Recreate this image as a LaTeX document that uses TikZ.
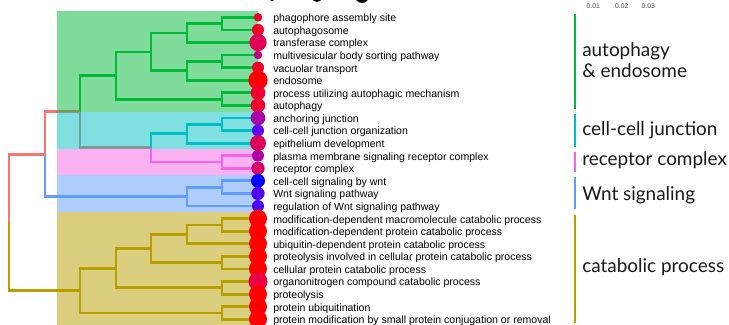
\documentclass[tikz,border=0pt]{standalone}
\usepackage{fontspec}
\setmainfont{Liberation Sans}
\newfontfamily\latofont{Lato}
\usepackage{tikz}
\usetikzlibrary{positioning}

\definecolor{salmonC}{RGB}{248,118,109}
\definecolor{oliveC}{RGB}{183,159,0}
\definecolor{greenC}{RGB}{0,186,56}
\definecolor{cyanC}{RGB}{0,191,196}
\definecolor{blueC}{RGB}{97,156,255}
\definecolor{pinkC}{RGB}{245,100,227}

\begin{document}
\begin{tikzpicture}[x=0.75pt,y=0.75pt,yscale=-1,xscale=1,
    branch/.style={line width=2.1pt},
    band/.style={fill opacity=0.5},
    hit/.style={circle,inner sep=0pt,minimum size=#1},
    term/.style={anchor=west,inner sep=0pt,font=\fontsize{7.9}{9}\selectfont,text height=1.5ex,text depth=0.25ex},
    groupbar/.style={line width=1.9pt},
    grouplab/.style={anchor=west,inner sep=0pt,align=left,text=black!90,font=\latofont\fontsize{14.2}{15.5}\selectfont},
    scalelab/.style={inner sep=0pt,text=black!75,font=\fontsize{5.1}{6}\selectfont}]
    \useasboundingbox (0,0) rectangle (729,325);
    \clip (0,0) rectangle (729,325);

    % leaves
    \coordinate (r0) at (258,17.3);   \coordinate (r1) at (258,29.9);   \coordinate (r2) at (258,42.5);
    \coordinate (r3) at (258,55.0);   \coordinate (r4) at (258,67.6);   \coordinate (r5) at (258,80.2);
    \coordinate (r6) at (258,92.8);   \coordinate (r7) at (258,105.4);  \coordinate (r8) at (258,117.9);
    \coordinate (r9) at (258,130.5);  \coordinate (r10) at (258,143.1); \coordinate (r11) at (258,155.7);
    \coordinate (r12) at (258,168.3); \coordinate (r13) at (258,180.8); \coordinate (r14) at (258,193.4);
    \coordinate (r15) at (258,206.0); \coordinate (r16) at (258,218.6); \coordinate (r17) at (258,231.2);
    \coordinate (r18) at (258,243.7); \coordinate (r19) at (258,256.3); \coordinate (r20) at (258,268.9);
    \coordinate (r21) at (258,281.5); \coordinate (r22) at (258,294.1); \coordinate (r23) at (258,306.6);
    \coordinate (r24) at (258,319.2);

    % merge points
    \coordinate (a1) at (222,23.6);   \coordinate (a2) at (187,33.05);  \coordinate (a3) at (222,61.3);
    \coordinate (a4) at (187,70.75);  \coordinate (a5) at (151,51.9);   \coordinate (a6) at (222,99.1);
    \coordinate (a7) at (116,75.5);
    \coordinate (c1) at (222,124.2);  \coordinate (c2) at (187,133.65); \coordinate (p1) at (222,162);
    \coordinate (cp) at (151,147.8);  \coordinate (top) at (80,111.65);
    \coordinate (w1) at (222,187.1);  \coordinate (w2) at (187,196.55); \coordinate (up) at (45,154.1);
    \coordinate (k1) at (222,224.9);  \coordinate (k2) at (187,234.3);  \coordinate (k3) at (222,262.6);
    \coordinate (k4) at (151,248.45); \coordinate (k5) at (222,287.8);  \coordinate (k6) at (116,268.1);
    \coordinate (k7) at (222,312.9);  \coordinate (k8) at (80,290.5);   \coordinate (root) at (9,222.3);

    % branches
    \draw[branch,greenC] (a1) |- (r0) (a1) |- (r1) (a2) |- (a1) (a2) |- (r2)
        (a3) |- (r3) (a3) |- (r4) (a4) |- (a3) (a4) |- (r5) (a5) |- (a2) (a5) |- (a4)
        (a6) |- (r6) (a6) |- (r7) (a7) |- (a5) (a7) |- (a6) (top) |- (a7);
    \draw[branch,cyanC] (c1) |- (r8) (c1) |- (r9) (c2) |- (c1) (c2) |- (r10) (cp) |- (c2);
    \draw[branch,pinkC] (p1) |- (r11) (p1) |- (r12) (cp) |- (p1);
    \draw[branch,blueC] (w1) |- (r13) (w1) |- (r14) (w2) |- (w1) (w2) |- (r15) (up) |- (w2);
    \draw[branch,salmonC] (top) |- (cp) (up) |- (top) (root) |- (up);
    \draw[branch,oliveC] (k1) |- (r16) (k1) |- (r17) (k2) |- (k1) (k2) |- (r18)
        (k3) |- (r19) (k3) |- (r20) (k4) |- (k2) (k4) |- (k3) (k5) |- (r21) (k5) |- (r22)
        (k6) |- (k4) (k6) |- (k5) (k7) |- (r23) (k7) |- (r24) (k8) |- (k6) (k8) |- (k7)
        (root) |- (k8);

    % cluster bands
    \fill[band,greenC] (57,11) rectangle (258,111.65);
    \fill[band,cyanC] (57,111.65) rectangle (258,149.4);
    \fill[band,pinkC] (57,149.4) rectangle (258,174.55);
    \fill[band,blueC] (57,174.55) rectangle (258,212.3);
    \fill[band,oliveC] (57,212.3) rectangle (258,325.5);

    % dots and terms
    \node[hit=6.45pt,fill={rgb,255:red,235;green,0;blue,50}] (d0) at (r0) {};   \node[term,right=11.25pt of r0] (t0) {phagophore assembly site};
    \node[hit=9pt,fill={rgb,255:red,240;green,0;blue,40}] (d1) at (r1) {};      \node[term,right=11.25pt of r1] (t1) {autophagosome};
    \node[hit=13pt,fill={rgb,255:red,225;green,0;blue,85}] (d2) at (r2) {};     \node[term,right=11.25pt of r2] (t2) {transferase complex};
    \node[hit=6.45pt,fill={rgb,255:red,190;green,0;blue,130}] (d3) at (r3) {};  \node[term,right=11.25pt of r3] (t3) {multivesicular body sorting pathway};
    \node[hit=9pt,fill={rgb,255:red,240;green,0;blue,45}] (d4) at (r4) {};      \node[term,right=11.25pt of r4] (t4) {vacuolar transport};
    \node[hit=14.5pt,fill={rgb,255:red,255;green,0;blue,0}] (d5) at (r5) {};    \node[term,right=11.25pt of r5] (t5) {endosome};
    \node[hit=11pt,fill={rgb,255:red,240;green,0;blue,50}] (d6) at (r6) {};     \node[term,right=11.25pt of r6] (t6) {process utilizing autophagic mechanism};
    \node[hit=11pt,fill={rgb,255:red,240;green,0;blue,50}] (d7) at (r7) {};     \node[term,right=11.25pt of r7] (t7) {autophagy};
    \node[hit=11pt,fill={rgb,255:red,170;green,0;blue,170}] (d8) at (r8) {};    \node[term,right=11.25pt of r8] (t8) {anchoring junction};
    \node[hit=9pt,fill={rgb,255:red,95;green,0;blue,240}] (d9) at (r9) {};      \node[term,right=11.25pt of r9] (t9) {cell-cell junction organization};
    \node[hit=12pt,fill={rgb,255:red,220;green,0;blue,90}] (d10) at (r10) {};   \node[term,right=11.25pt of r10] (t10) {epithelium development};
    \node[hit=9pt,fill={rgb,255:red,175;green,0;blue,165}] (d11) at (r11) {};   \node[term,right=11.25pt of r11] (t11) {plasma membrane signaling receptor complex};
    \node[hit=10pt,fill={rgb,255:red,215;green,0;blue,100}] (d12) at (r12) {};  \node[term,right=11.25pt of r12] (t12) {receptor complex};
    \node[hit=10.5pt,fill={rgb,255:red,0;green,0;blue,255}] (d13) at (r13) {};  \node[term,right=11.25pt of r13] (t13) {cell-cell signaling by wnt};
    \node[hit=10pt,fill={rgb,255:red,80;green,0;blue,240}] (d14) at (r14) {};   \node[term,right=11.25pt of r14] (t14) {Wnt signaling pathway};
    \node[hit=9pt,fill={rgb,255:red,75;green,0;blue,245}] (d15) at (r15) {};    \node[term,right=11.25pt of r15] (t15) {regulation of Wnt signaling pathway};
    \node[hit=13.5pt,fill={rgb,255:red,255;green,0;blue,0}] (d16) at (r16) {};  \node[term,right=11.25pt of r16] (t16) {modification-dependent macromolecule catabolic process};
    \node[hit=13.5pt,fill={rgb,255:red,255;green,0;blue,0}] (d17) at (r17) {};  \node[term,right=11.25pt of r17] (t17) {modification-dependent protein catabolic process};
    \node[hit=13.5pt,fill={rgb,255:red,255;green,0;blue,0}] (d18) at (r18) {};  \node[term,right=11.25pt of r18] (t18) {ubiquitin-dependent protein catabolic process};
    \node[hit=13.5pt,fill={rgb,255:red,255;green,0;blue,0}] (d19) at (r19) {};  \node[term,right=11.25pt of r19] (t19) {proteolysis involved in cellular protein catabolic process};
    \node[hit=13.5pt,fill={rgb,255:red,255;green,0;blue,0}] (d20) at (r20) {};  \node[term,right=11.25pt of r20] (t20) {cellular protein catabolic process};
    \node[hit=14.25pt,fill={rgb,255:red,235;green,0;blue,65}] (d21) at (r21) {}; \node[term,right=11.25pt of r21] (t21) {organonitrogen compound catabolic process};
    \node[hit=13.5pt,fill={rgb,255:red,255;green,0;blue,0}] (d22) at (r22) {};  \node[term,right=11.25pt of r22] (t22) {proteolysis};
    \node[hit=13.5pt,fill={rgb,255:red,255;green,0;blue,0}] (d23) at (r23) {};  \node[term,right=11.25pt of r23] (t23) {protein ubiquitination};
    \node[hit=13.5pt,fill={rgb,255:red,255;green,0;blue,0}] (d24) at (r24) {};  \node[term,right=11.25pt of r24] (t24) {protein modification by small protein conjugation or removal};

    % group bars
    \draw[groupbar,greenC] (575,14.3) -- (575,109);
    \draw[groupbar,cyanC] (575,114) -- (575,146.7);
    \draw[groupbar,pinkC] (575,151.7) -- (575,171.7);
    \draw[groupbar,blueC] (575,177.3) -- (575,209.3);
    \draw[groupbar,oliveC] (575,215) -- (575,322.7);

    % Text Node
    \node[grouplab] (g1) at (582,60.4) {autophagy\\\& endosome};
    \node[grouplab] (g2) at (582,130.7) {cell-cell junction};
    \node[grouplab] (g3) at (582,160) {receptor complex};
    \node[grouplab] (g4) at (582,195) {Wnt signaling};
    \node[grouplab] (g5) at (582,266.7) {catabolic process};

    % size scale, cut at the top
    \node[scalelab] (s1) at (593.3,6) {0.01};
    \node[scalelab] (s2) at (621.7,6) {0.02};
    \node[scalelab] (s3) at (648.3,6) {0.03};
    \fill (272,-2) circle (3);
    \fill (317,-3) circle (5);
    \fill (362,-4) circle (7);
\end{tikzpicture}
\end{document}
